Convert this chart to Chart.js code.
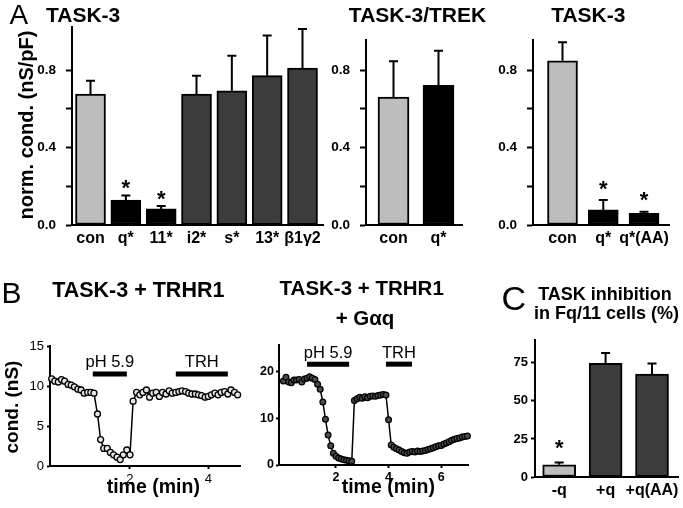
<!DOCTYPE html>
<html><head><meta charset="utf-8">
<script src="https://cdn.jsdelivr.net/npm/chart.js@4"></script>
<style>
html,body{margin:0;padding:0;background:#fff;}
#wrap{position:relative;width:683px;height:508px;overflow:hidden;background:#fff;font-family:'Liberation Sans',Arial,Helvetica,sans-serif;color:#000;}
canvas{position:absolute;left:0;top:0;}
.t{position:absolute;white-space:nowrap;line-height:1;}
</style></head>
<body><div id="wrap"></div>
<script>
// ---------------- DATA ----------------
const catsA1 = ['con', 'q*', '11*', 'i2*', 's*', '13*', 'β1γ2'];
const valsA1 = [0.676, 0.129, 0.083, 0.676, 0.693, 0.771, 0.810];
const errA1  = [0.068, 0.023, 0.015, 0.095, 0.181, 0.207, 0.202];
const sigA1  = [false, true, true, false, false, false, false];

const catsA2 = ['con', 'q*'];
const valsA2 = [0.660, 0.721];
const errA2  = [0.185, 0.179];
const sigA2  = [false, false];

const catsA3 = ['con', 'q*', 'q*(AA)'];
const valsA3 = [0.848, 0.078, 0.060];
const errA3  = [0.095, 0.051, 0.009];
const sigA3  = [false, true, true];

const ticksA = [0, 0.2, 0.4, 0.6, 0.8];
const labeledA = [0, 0.4, 0.8];

const timeB1 = [0.00,0.08,0.17,0.25,0.33,0.42,0.50,0.58,0.67,0.75,0.83,0.92,1.00,1.08,1.17,1.25,1.33,1.42,1.50,1.58,
                1.67,1.75,1.83,1.92,2.00,2.08,2.17,2.25,2.33,2.42,2.50,2.58,2.67,2.75,2.83,2.92,3.00,3.08,3.17,3.25,
                3.33,3.42,3.50,3.58,3.67,3.75,3.83,3.92,4.00,4.08,4.17,4.25,4.33,4.42,4.50,4.58,4.67,4.75];
const condB1 = [10.9,10.6,10.5,10.8,10.6,10.2,10.1,9.9,9.6,9.5,9.1,9.2,9.2,9.1,6.5,3.3,2.2,2.2,1.7,1.4,
                1.1,0.8,1.4,2.0,1.4,8.1,9.2,8.9,9.2,9.5,8.6,9.1,9.2,8.7,9.2,9.0,9.4,9.1,9.2,9.3,
                9.4,9.3,9.1,9.0,9.0,8.9,8.8,8.6,8.7,8.9,9.1,8.9,9.2,9.3,9.0,9.5,9.2,8.9];
const stimB1 = [{label: 'pH 5.9', from: 1.05, to: 1.92}, {label: 'TRH', from: 3.17, to: 4.50}];
const stimLevelB1 = 11.5;
const xTicksB1 = [2, 4];
const yTicksB1 = [0, 5, 10, 15];

const timeB2 = [0.0,0.1,0.2,0.3,0.4,0.5,0.6,0.7,0.8,0.9,1.0,1.1,1.2,1.3,1.4,1.5,1.6,1.7,1.8,1.9,
                2.0,2.1,2.2,2.3,2.4,2.5,2.6,2.7,2.8,2.9,3.0,3.1,3.2,3.3,3.4,3.5,3.6,3.7,3.8,3.9,
                4.0,4.1,4.2,4.3,4.4,4.5,4.6,4.7,4.8,4.9,5.0,5.1,5.2,5.3,5.4,5.5,5.6,5.7,5.8,5.9,
                6.0,6.1,6.2,6.3,6.4,6.5,6.6,6.7,6.8,6.9,7.0];
const condB2 = [18.0,18.8,17.8,17.6,18.2,18.2,18.3,17.8,18.4,18.6,18.9,18.6,18.3,17.3,16.2,13.5,9.8,6.4,4.1,2.5,
                1.9,1.5,1.3,1.1,1.0,0.9,0.8,13.8,14.2,14.5,14.3,14.6,14.4,14.7,14.8,14.7,14.9,15.0,15.1,15.0,
                9.7,4.3,3.8,3.5,3.2,2.9,2.6,2.5,2.8,2.9,2.8,3.0,2.9,3.0,3.1,3.3,3.5,3.7,3.9,4.1,
                4.2,4.5,4.7,5.0,5.3,5.5,5.7,5.8,6.0,6.1,6.2];
const stimB2 = [{label: 'pH 5.9', from: 0.90, to: 2.50}, {label: 'TRH', from: 3.90, to: 4.89}];
const stimLevelB2 = 21.6;
const xTicksB2 = [2, 4, 6];
const yTicksB2 = [0, 10, 20];

const catsC = ['-q', '+q', '+q(AA)'];
const valsC = [8.0, 74.6, 67.6];
const errC  = [1.5, 6.9, 7.0];
const sigC  = [true, false, false];
const ticksC = [0, 25, 50, 75];

// ---------------- STYLE / LAYOUT ----------------
const FAM = "'Liberation Sans', Arial, Helvetica, sans-serif";
const W = 683, H = 508, YW = 45, XH = 30;
const LIGHT = '#bdbdbd', DARK = '#3c3c3c', BLACK = '#000000';
const wrap = document.getElementById('wrap');

Chart.defaults.font.family = FAM;
Chart.defaults.color = '#000';
Chart.defaults.animation = false;
Chart.defaults.events = [];
Chart.defaults.plugins.legend.display = false;
Chart.defaults.plugins.tooltip.enabled = false;

const errorBars = {
  id: 'errorBars',
  afterDatasetsDraw(chart, args, opts) {
    const ctx = chart.ctx, ys = chart.scales.y;
    chart.data.datasets.forEach((ds, di) => {
      if (!ds.errors) return;
      const meta = chart.getDatasetMeta(di);
      meta.data.forEach((bar, i) => {
        const v = ds.data[i].y, e = ds.errors[i];
        const yTop = ys.getPixelForValue(v + e), yV = ys.getPixelForValue(v);
        ctx.save();
        ctx.strokeStyle = '#000'; ctx.lineWidth = 2; ctx.lineCap = 'butt';
        ctx.beginPath();
        ctx.moveTo(bar.x, yV); ctx.lineTo(bar.x, yTop);
        ctx.moveTo(bar.x - (opts.cap || 4.5), yTop); ctx.lineTo(bar.x + (opts.cap || 4.5), yTop);
        ctx.stroke();
        if (ds.sig && ds.sig[i]) {
          ctx.fillStyle = '#000';
          ctx.font = 'bold 22px ' + FAM;
          ctx.textAlign = 'center'; ctx.textBaseline = 'alphabetic';
          ctx.fillText('*', bar.x, yTop - (opts.sigOffset || 13) + 12.6);
        }
        ctx.restore();
      });
    });
  }
};
const stimLabels = {
  id: 'stimLabels',
  afterDatasetsDraw(chart, args, opts) {
    const ctx = chart.ctx, xs = chart.scales.x, ys = chart.scales.y;
    chart.data.datasets.forEach(ds => {
      if (!ds.stimLabel) return;
      const x = (xs.getPixelForValue(ds.data[0].x) + xs.getPixelForValue(ds.data[1].x)) / 2;
      const y = ys.getPixelForValue(ds.data[0].y) - (opts.gap || 6);
      ctx.save();
      ctx.fillStyle = '#000'; ctx.font = '16.5px ' + FAM;
      ctx.textAlign = 'center'; ctx.textBaseline = 'alphabetic';
      ctx.fillText(ds.stimLabel, x, y);
      ctx.restore();
    });
  }
};
Chart.register(errorBars, stimLabels);

function canvas() {
  const c = document.createElement('canvas');
  c.width = W; c.height = H; c.style.width = W + 'px'; c.style.height = H + 'px';
  wrap.appendChild(c); return c;
}
function pad(b) { return { left: b.l - YW, top: b.t, right: W - b.r, bottom: H - b.b - XH }; }
function yScale(min, max, ticks, fmt, st) {
  return {
    type: 'linear', min, max, offset: false,
    afterFit: s => { s.width = YW; },
    afterBuildTicks: s => { s.ticks = ticks.map(v => ({ value: v })); },
    border: { display: true, color: '#000', width: 2 },
    grid: { display: true, offset: false, drawOnChartArea: false, drawTicks: true, tickLength: st.tl, tickWidth: 2, tickColor: '#000' },
    ticks: { callback: fmt, color: '#000', padding: st.pad, font: st.font, autoSkip: false }
  };
}
function xScale(min, max, ticks, fmt, st) {
  return {
    type: 'linear', min, max, offset: false,
    afterFit: s => { s.height = XH; },
    afterBuildTicks: s => { s.ticks = ticks.map(v => ({ value: v })); },
    border: { display: true, color: '#000', width: 2 },
    grid: { display: true, offset: false, drawOnChartArea: false, drawTicks: st.tl > 0, tickLength: st.tl, tickWidth: 2, tickColor: '#000' },
    ticks: { callback: fmt, color: '#000', padding: st.pad, font: st.font, autoSkip: false, maxRotation: 0, minRotation: 0 }
  };
}
const fmtA = v => labeledA.includes(v) ? v.toFixed(1) : '';
const yStA = { tl: 6, pad: 10, font: { size: 13.5, weight: 'bold' } };
const xStBar = { tl: 0, pad: 4, font: { size: 16, weight: 'bold' } };

function barChart(box, cats, vals, errs, sig, colors, xmin, xmax, ymax, yTicks, yFmt, yst, barW, sigOffset) {
  new Chart(canvas(), {
    type: 'bar',
    data: { datasets: [{
      data: cats.map((c, i) => ({ x: i, y: vals[i] })),
      errors: errs, sig: sig,
      backgroundColor: colors, borderColor: '#000', borderWidth: 2, borderSkipped: false,
      barThickness: barW
    }] },
    options: {
      responsive: false, devicePixelRatio: 1,
      layout: { padding: pad(box) },
      plugins: { errorBars: { cap: 4.5, sigOffset: sigOffset } },
      scales: {
        x: xScale(xmin, xmax, cats.map((c, i) => i), v => cats[v], xStBar),
        y: yScale(0, ymax, yTicks, yFmt, yst)
      }
    }
  });
}

// Panel A
barChart({ l: 72, r: 323, t: 27, b: 225 }, catsA1, valsA1, errA1, sigA1,
  [LIGHT, BLACK, BLACK, DARK, DARK, DARK, DARK], -0.524, 6.58, 1.022, ticksA, fmtA, yStA, 30, 13);
barChart({ l: 366, r: 462, t: 40, b: 225 }, catsA2, valsA2, errA2, sigA2,
  [LIGHT, BLACK], -0.611, 1.522, 0.955, ticksA, fmtA, yStA, 31, 13);
barChart({ l: 533, r: 669, t: 40, b: 225 }, catsA3, valsA3, errA3, sigA3,
  [LIGHT, BLACK, BLACK], -0.724, 2.613, 0.955, ticksA, fmtA, yStA, 30, 17);
// Panel C
barChart({ l: 535, r: 680, t: 340, b: 477 }, catsC, valsC, errC, sigC,
  [LIGHT, DARK, DARK], -0.521, 2.564, 90, ticksC, v => String(v),
  { tl: 4, pad: 3, font: { size: 13, weight: 'bold' } }, 33, 20);

// Panel B
function traceChart(box, times, cond, stim, level, xmin, xmax, ymax, xt, yt, st, pt, gap) {
  const ds = [{
    type: 'line', data: times.map((t, i) => ({ x: t, y: cond[i] })),
    borderColor: '#000', borderWidth: 1.5, tension: 0,
    pointRadius: pt.r, pointBackgroundColor: pt.fill, pointBorderColor: '#000', pointBorderWidth: pt.bw,
    clip: false
  }];
  stim.forEach(s => ds.push({
    type: 'line', data: [{ x: s.from, y: level }, { x: s.to, y: level }], stimLabel: s.label,
    borderColor: '#000', borderWidth: 5, borderCapStyle: 'butt', pointRadius: 0, clip: false
  }));
  new Chart(canvas(), {
    type: 'line',
    data: { datasets: ds },
    options: {
      responsive: false, devicePixelRatio: 1,
      layout: { padding: pad(box) },
      plugins: { stimLabels: { gap: gap } },
      scales: {
        x: xScale(xmin, xmax, xt, v => String(v), st),
        y: yScale(0, ymax, yt, v => String(v), st)
      }
    }
  });
}
traceChart({ l: 50, r: 240, t: 346, b: 466 }, timeB1, condB1, stimB1, stimLevelB1,
  -0.043, 4.81, 15, xTicksB1, yTicksB1, { tl: 3, pad: 3, font: { size: 13 } },
  { r: 3, fill: '#e6e6e6', bw: 1.3 }, 7.3);
traceChart({ l: 279, r: 468, t: 345, b: 465 }, timeB2, condB2, stimB2, stimLevelB2,
  -0.167, 7.02, 25.7, xTicksB2, yTicksB2, { tl: 3, pad: 2, font: { size: 12.5, weight: 'bold' } },
  { r: 2.9, fill: '#4a4a4a', bw: 1.2 }, 5.7);

// ---------------- TEXT ----------------
function txt(s, x, base, size, o) {
  o = o || {};
  const d = document.createElement('div');
  d.className = 't'; d.textContent = s;
  d.style.fontSize = size + 'px';
  d.style.fontWeight = o.bold ? 'bold' : 'normal';
  if (o.rot) {
    d.style.left = x + 'px'; d.style.top = base + 'px';
    d.style.transform = 'translate(-50%,-50%) rotate(-90deg)';
  } else {
    d.style.top = (base - 0.8465 * size) + 'px';
    d.style.left = x + 'px';
    if (o.center) d.style.transform = 'translateX(-50%)';
  }
  wrap.appendChild(d);
}
txt('A', 9.5, 25, 28);
txt('TASK-3', 46, 21.7, 21, { bold: true });
txt('TASK-3/TREK', 417.5, 21.7, 21, { bold: true, center: true });
txt('TASK-3', 588.3, 21.7, 21, { bold: true, center: true });
txt('norm. cond. (nS/pF)', 25.6, 125, 20, { bold: true, rot: true });

txt('B', 1.5, 303.3, 30);
txt('TASK-3 + TRHR1', 138.3, 298.3, 21.5, { bold: true, center: true });
txt('TASK-3 + TRHR1', 361.7, 295, 20.5, { bold: true, center: true });
txt('+ Gαq', 365, 325, 20.5, { bold: true, center: true });
txt('cond. (nS)', 11.1, 406.7, 19, { bold: true, rot: true });
txt('time (min)', 153.3, 494, 19.5, { bold: true, center: true });
txt('time (min)', 388.3, 494, 19.5, { bold: true, center: true });

txt('C', 501.5, 310, 34);
txt('TASK inhibition', 605, 300, 18, { bold: true, center: true });
txt('in Fq/11 cells (%)', 606.5, 319, 18, { bold: true, center: true });
</script>
</body></html>
